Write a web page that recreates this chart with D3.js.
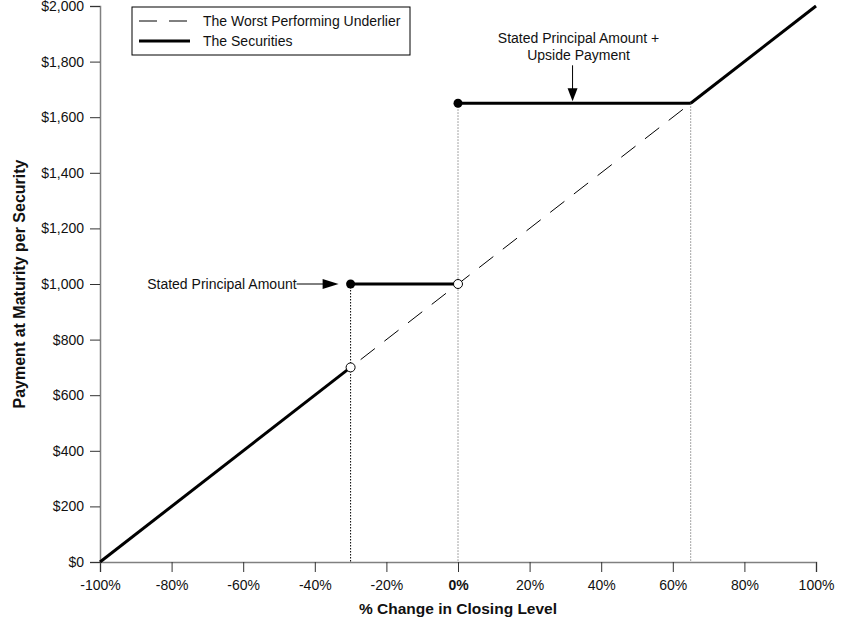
<!DOCTYPE html>
<html>
<head>
<meta charset="utf-8">
<script src="https://cdnjs.cloudflare.com/ajax/libs/d3/7.8.5/d3.min.js"></script>
<style>
  body { margin: 0; background: #fff; }
  svg text { font-family: "Liberation Sans", Arial, sans-serif; fill: #111; }
</style>
</head>
<body>
<svg id="chart" width="842" height="622"></svg>
<script>
// axis ticks
var xTicks = [-100, -80, -60, -40, -20, 0, 20, 40, 60, 80, 100];
var yTicks = [0, 200, 400, 600, 800, 1000, 1200, 1400, 1600, 1800, 2000];

// the worst performing underlier (dashed, 1:1 line)
var underlierX = [-100, 100];
var underlierY = [0, 2000];

// the securities payoff, drawn as separate pieces
var securities = [
  [[-100, 0], [-30, 700]],
  [[-30, 1000], [0, 1000]],
  [[0, 1650], [65, 1650]],
  [[65, 1650], [100, 2000]]
];
var filledDots = [[-30, 1000], [0, 1650]];
var openDots = [[-30, 700], [0, 1000]];

// vertical reference lines [x, yTop, colour]
var guides = [[-30, 1000, "#000"], [0, 1650, "#888"], [65, 1650, "#888"]];

var svg = d3.select("#chart");
var pLeft = 100, pRight = 816, pTop = 6, pBottom = 562;

var x = d3.scaleLinear().domain([-100, 100]).range([pLeft, pRight]);
var y = d3.scaleLinear().domain([0, 2000]).range([pBottom, pTop]);

// axes
var xAxis = svg.append("g")
  .attr("transform", "translate(0," + pBottom + ")")
  .call(d3.axisBottom(x).tickValues(xTicks).tickSize(10).tickPadding(8)
    .tickFormat(function(d) { return d + "%"; }));
var yAxis = svg.append("g")
  .attr("transform", "translate(" + pLeft + ",0)")
  .call(d3.axisLeft(y).tickValues(yTicks).tickSize(10).tickPadding(6)
    .tickFormat(function(d) { return "$" + d3.format(",")(d); }));

[xAxis, yAxis].forEach(function(a) {
  a.attr("font-size", null).attr("font-family", null);
  a.select(".domain").attr("stroke", "#808080").attr("stroke-width", 1.5);
  a.selectAll(".tick line").attr("stroke", "#333");
  a.selectAll(".tick text").attr("fill", "#111")
    .style("font-size", "14px")
    .style("font-family", '"Liberation Sans", Arial, sans-serif');
});
xAxis.selectAll(".tick text").filter(function(d) { return d === 0; })
  .style("font-weight", "bold");

// guides
svg.selectAll("line.guide").data(guides).enter().append("line")
  .attr("class", "guide")
  .attr("x1", function(d) { return x(d[0]); })
  .attr("x2", function(d) { return x(d[0]); })
  .attr("y1", function(d) { return y(d[1]); })
  .attr("y2", pBottom)
  .attr("stroke", function(d) { return d[2]; })
  .attr("stroke-width", 1)
  .attr("stroke-dasharray", "1.5,1.5");

// underlier
svg.append("line")
  .attr("x1", x(underlierX[0])).attr("y1", y(underlierY[0]))
  .attr("x2", x(underlierX[1])).attr("y2", y(underlierY[1]))
  .attr("stroke", "#000").attr("stroke-width", 1)
  .attr("stroke-dasharray", "18,12");

// securities
var line = d3.line().x(function(d) { return x(d[0]); }).y(function(d) { return y(d[1]); });
svg.selectAll("path.sec").data(securities).enter().append("path")
  .attr("class", "sec")
  .attr("d", line)
  .attr("fill", "none").attr("stroke", "#000").attr("stroke-width", 3);

svg.selectAll("circle.open").data(openDots).enter().append("circle")
  .attr("class", "open")
  .attr("cx", function(d) { return x(d[0]); })
  .attr("cy", function(d) { return y(d[1]); })
  .attr("r", 4.5).attr("fill", "#fff").attr("stroke", "#000").attr("stroke-width", 1);
svg.selectAll("circle.fill").data(filledDots).enter().append("circle")
  .attr("class", "fill")
  .attr("cx", function(d) { return x(d[0]); })
  .attr("cy", function(d) { return y(d[1]); })
  .attr("r", 4.5).attr("fill", "#000");

// annotation: stated principal amount
var ax = x(-30) - 12, ay = y(1000);
svg.append("line").attr("x1", ax - 42).attr("x2", ax - 14)
  .attr("y1", ay).attr("y2", ay).attr("stroke", "#000").attr("stroke-width", 1);
svg.append("path")
  .attr("d", "M" + ax + "," + ay + "L" + (ax - 16) + "," + (ay - 5) + "L" + (ax - 16) + "," + (ay + 5) + "Z")
  .attr("fill", "#000");
svg.append("text").attr("x", ax - 42).attr("y", ay + 5)
  .attr("text-anchor", "end").style("font-size", "14px").text("Stated Principal Amount");

// annotation: upside payment
var bx = x(32), by = y(1650) - 2;
svg.append("line").attr("x1", bx).attr("x2", bx)
  .attr("y1", by - 36).attr("y2", by - 12).attr("stroke", "#000").attr("stroke-width", 1);
svg.append("path")
  .attr("d", "M" + bx + "," + by + "L" + (bx - 5) + "," + (by - 13) + "L" + (bx + 5) + "," + (by - 13) + "Z")
  .attr("fill", "#000");
svg.append("text").attr("x", bx + 6).attr("y", by - 58)
  .attr("text-anchor", "middle").style("font-size", "14px").text("Stated Principal Amount +");
svg.append("text").attr("x", bx + 6).attr("y", by - 41)
  .attr("text-anchor", "middle").style("font-size", "14px").text("Upside Payment");

// axis titles
svg.append("text").attr("x", (pLeft + pRight) / 2).attr("y", 614)
  .attr("text-anchor", "middle").style("font-size", "15.5px").style("font-weight", "bold")
  .text("% Change in Closing Level");
svg.append("text")
  .attr("transform", "translate(25," + (pTop + pBottom) / 2 + ") rotate(-90)")
  .attr("text-anchor", "middle").style("font-size", "16px").style("font-weight", "bold")
  .text("Payment at Maturity per Security");

// legend
var lg = svg.append("g").attr("transform", "translate(132,7)");
lg.append("rect").attr("width", 278).attr("height", 48)
  .attr("fill", "#fff").attr("stroke", "#000").attr("stroke-width", 1);
lg.append("line").attr("x1", 7).attr("x2", 58).attr("y1", 14).attr("y2", 14)
  .attr("stroke", "#000").attr("stroke-width", 1).attr("stroke-dasharray", "18,12");
lg.append("line").attr("x1", 7).attr("x2", 58).attr("y1", 34).attr("y2", 34)
  .attr("stroke", "#000").attr("stroke-width", 3);
lg.append("text").attr("x", 71).attr("y", 19).style("font-size", "14px")
  .text("The Worst Performing Underlier");
lg.append("text").attr("x", 71).attr("y", 39).style("font-size", "14px")
  .text("The Securities");
</script>
</body>
</html>
